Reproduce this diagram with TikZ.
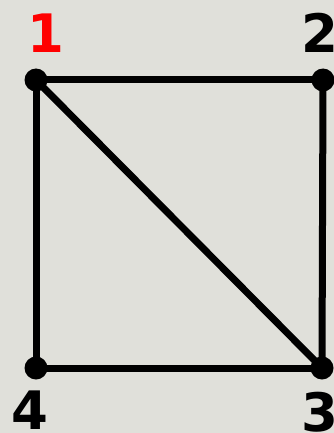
\documentclass[tikz,border=0pt]{standalone}
\usepackage{fontspec}
\setmainfont{DejaVu Sans}
\usepackage{xcolor}
\definecolor{bgpanel}{RGB}{224,224,218}

\begin{document}
\begin{tikzpicture}[x=1pt,y=-1pt,
  vert/.style={circle,fill=black,inner sep=0pt,minimum size=23pt},
  lbl/.style={font=\fontsize{53}{53}\selectfont\bfseries,inner sep=0pt},
  edge/.style={line width=7pt}]
%% background
\fill[bgpanel] (0,0) rectangle (334,433);
\useasboundingbox (0,0) rectangle (334,433);

%% vertices
\node[vert] (v1) at (36,80) {};
\node[vert] (v2) at (323,80) {};
\node[vert] (v3) at (322,368) {};
\node[vert] (v4) at (36,368) {};

%% labels
\node[lbl,text=red] (l1) at (46,33) {1};
\node[lbl] (l2) at (320,33) {2};
\node[lbl] (l3) at (320,412) {3};
\node[lbl] (l4) at (30,410) {4};

%% edges
\draw[edge] (v1.center) -- (v2.center);
\draw[edge] (v2.center) -- (v3.center);
\draw[edge] (v3.center) -- (v4.center);
\draw[edge] (v4.center) -- (v1.center);
\draw[edge] (v1.center) -- (v3.center);
\end{tikzpicture}
\end{document}
